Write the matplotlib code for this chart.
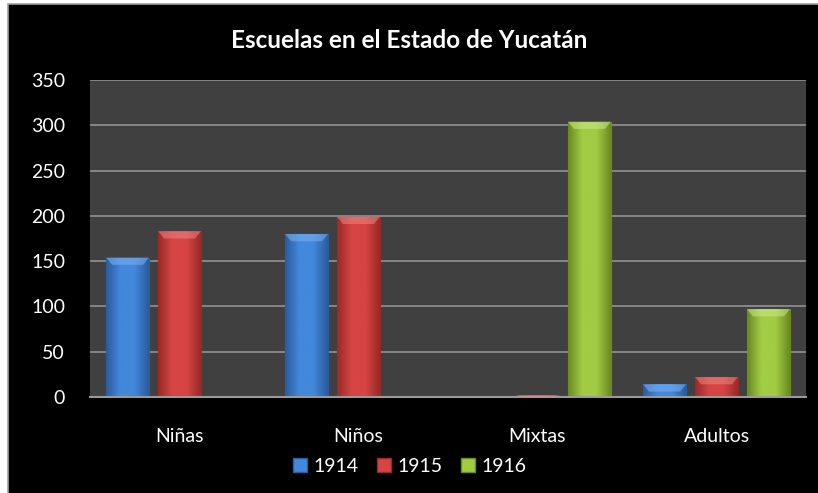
import numpy as np
import matplotlib.pyplot as plt
from matplotlib.patches import Rectangle, Polygon
from matplotlib.colors import LinearSegmentedColormap
from matplotlib.lines import Line2D

plt.rcParams['font.family'] = ['Lato', 'DejaVu Sans']

categories = ['Niñas', 'Niños', 'Mixtas', 'Adultos']
years = ['1914', '1915', '1916']
v1914 = [154, 180, 0, 14]
v1915 = [183, 199, 2, 22]
v1916 = [0, 0, 304, 97]
title = 'Escuelas en el Estado de Yucatán'

# (dark edge, light centre, bevel top)
palette = {
    '1914': ('#2a5c9e', '#4388db', '#7fb2f0'),
    '1915': ('#992a28', '#d64543', '#ee8482'),
    '1916': ('#6a8a22', '#a2cc44', '#cde88a'),
}


def shade_bar(ax, rect, cols):
    x, w, h = rect.get_x(), rect.get_width(), rect.get_height()
    if h <= 0:
        return
    cmap = LinearSegmentedColormap.from_list('b', [cols[0], cols[1], cols[1], cols[0]])
    grad = np.linspace(0, 1, 64).reshape(1, -1)
    im = ax.imshow(grad, cmap=cmap, extent=(x, x + w, 0, h), aspect='auto',
                   zorder=2, interpolation='bicubic')
    im.set_clip_path(rect)
    # bevelled top
    d = min(8.0, h)
    ins = w * 0.14
    ax.add_patch(Polygon([(x, h), (x + w, h), (x + w - ins, h - d), (x + ins, h - d)],
                         closed=True, color=cols[2], alpha=0.55, lw=0, zorder=3))


def draw():
    fig = plt.figure(figsize=(8.18, 4.93), dpi=100, facecolor='white')
    fig.patches.append(Rectangle((8 / 818, -0.05), 1.1, 1.05 - 4 / 493, transform=fig.transFigure,
                                 facecolor='black', edgecolor='#a0a0a0', lw=1.2, zorder=-10))
    ax = fig.add_axes([90 / 818, 96 / 493, 716 / 818, 317 / 493])
    ax.set_facecolor('#404040')

    x = np.arange(len(categories))
    bw = 0.24
    step = 0.29
    for i, (yr, vals) in enumerate(zip(years, [v1914, v1915, v1916])):
        bars = ax.bar(x + (i - 1) * step, vals, bw, color=palette[yr][1],
                      edgecolor=palette[yr][0], linewidth=0.8, zorder=2)
        for r in bars:
            shade_bar(ax, r, palette[yr])

    ax.set_xlim(-0.5, len(categories) - 0.5)
    ax.set_ylim(0, 350)
    ax.set_yticks(np.arange(0, 351, 50))
    ax.set_xticks(x)
    ax.set_xticklabels(categories)
    ax.yaxis.grid(True, color='#8c8c8c', lw=1.3)
    ax.set_axisbelow(True)
    ax.tick_params(colors='white', labelsize=14, length=0)
    ax.tick_params(axis='x', pad=22)
    ax.tick_params(axis='y', pad=18)
    for s in ['top', 'right', 'left']:
        ax.spines[s].set_visible(False)
    ax.spines['bottom'].set_color('#9a9a9a')
    ax.spines['bottom'].set_linewidth(1.5)

    fig.text(0.5, 1 - 40 / 493, title, ha='center', va='center', color='white',
             fontsize=17.5, fontweight='bold')

    handles = [Line2D([], [], marker='s', ls='', markersize=10,
                      markerfacecolor=palette[yr][1], markeredgecolor=palette[yr][0])
               for yr in years]
    leg = fig.legend(handles, years, loc='center', bbox_to_anchor=(0.5, 1 - 466 / 493),
                     ncol=3, frameon=False, fontsize=14, handlelength=0.8,
                     handletextpad=0.3, columnspacing=0.9)
    for t in leg.get_texts():
        t.set_color('white')

    fig.savefig('out.png', dpi=100, facecolor=fig.get_facecolor())


if __name__ == '__main__':
    draw()
